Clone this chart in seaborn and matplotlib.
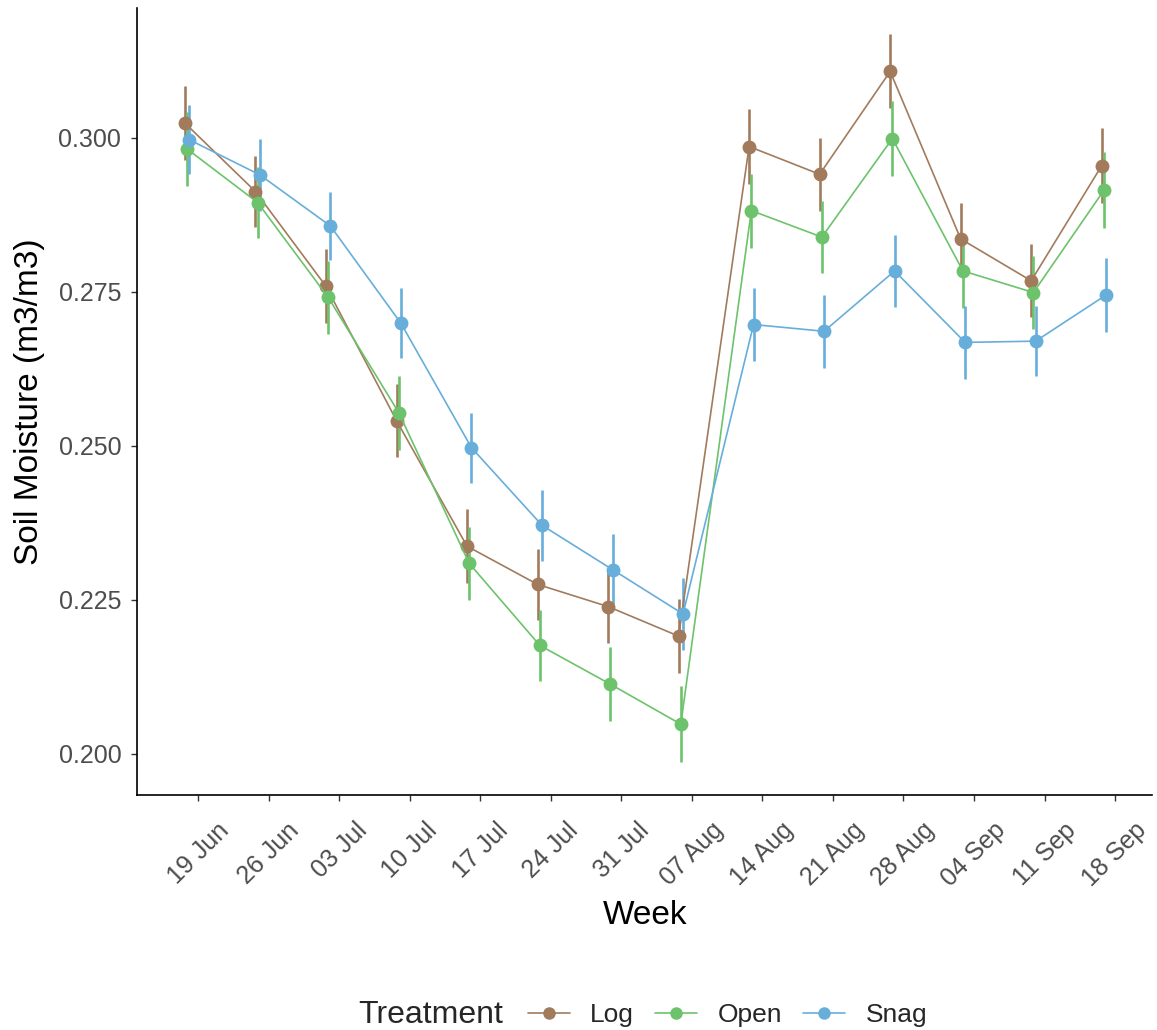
import matplotlib
matplotlib.use("Agg")
import matplotlib.pyplot as plt
import matplotlib.dates as mdates
from matplotlib.lines import Line2D
import seaborn as sns
import pandas as pd
import numpy as np

# ---- data ----
weeks = ["2019-06-18", "2019-06-25", "2019-07-02", "2019-07-09", "2019-07-16",
         "2019-07-23", "2019-07-30", "2019-08-06", "2019-08-13", "2019-08-20",
         "2019-08-27", "2019-09-03", "2019-09-10", "2019-09-17"]
tick_dates = ["2019-06-19", "2019-06-26", "2019-07-03", "2019-07-10", "2019-07-17",
              "2019-07-24", "2019-07-31", "2019-08-07", "2019-08-14", "2019-08-21",
              "2019-08-28", "2019-09-04", "2019-09-11", "2019-09-18"]
treatments = ["Log", "Open", "Snag"]
log_mean = [0.3024, 0.2913, 0.2759, 0.2541, 0.2337, 0.2275, 0.2239, 0.2191,
            0.2986, 0.2941, 0.3108, 0.2836, 0.2768, 0.2955]
open_mean = [0.2982, 0.2895, 0.2741, 0.2554, 0.2309, 0.2176, 0.2113, 0.2048,
             0.2882, 0.2839, 0.2999, 0.2784, 0.2749, 0.2915]
snag_mean = [0.2997, 0.2940, 0.2857, 0.2699, 0.2497, 0.2371, 0.2299, 0.2227,
             0.2697, 0.2686, 0.2784, 0.2668, 0.2670, 0.2745]
log_se = [0.0060, 0.0058, 0.0060, 0.0059, 0.0060, 0.0058, 0.0059, 0.0060,
          0.0061, 0.0059, 0.0060, 0.0058, 0.0059, 0.0061]
open_se = [0.0060, 0.0057, 0.0059, 0.0060, 0.0060, 0.0058, 0.0060, 0.0062,
           0.0060, 0.0059, 0.0061, 0.0060, 0.0060, 0.0062]
snag_se = [0.0056, 0.0059, 0.0056, 0.0057, 0.0057, 0.0058, 0.0058, 0.0058,
           0.0060, 0.0059, 0.0058, 0.0059, 0.0057, 0.0060]

colors = {"Log": "#A27B5C", "Open": "#6CC36C", "Snag": "#67AEDB"}
dodge_days = {"Log": -0.32, "Open": -0.10, "Snag": 0.12}

means = {"Log": log_mean, "Open": open_mean, "Snag": snag_mean}
ses = {"Log": log_se, "Open": open_se, "Snag": snag_se}

rows = []
for t in treatments:
    for d, m, s in zip(weeks, means[t], ses[t]):
        rows.append({"Week": pd.Timestamp(d) + pd.Timedelta(days=dodge_days[t]),
                     "Moisture": m, "se": s, "Treatment": t})
df = pd.DataFrame(rows)

# ---- style ----
sns.set_style("ticks")
plt.rcParams["font.family"] = ["Liberation Sans", "DejaVu Sans"]

W, H = 1157, 1030
fig = plt.figure(figsize=(W / 100, H / 100), dpi=100)
L, R, T, B = 137.3, 1152, 8, 795
ax = fig.add_axes([L / W, 1 - B / H, (R - L) / W, (B - T) / H])

# error bars first (under points)
for t in treatments:
    sub = df[df["Treatment"] == t]
    ax.errorbar(sub["Week"], sub["Moisture"], yerr=sub["se"], fmt="none",
                ecolor=colors[t], elinewidth=1.9, capsize=0, zorder=2)

sns.lineplot(data=df, x="Week", y="Moisture", hue="Treatment",
             hue_order=treatments, palette=colors, marker="o", markersize=10,
             markeredgewidth=0, linewidth=1.2, legend=False, ax=ax, zorder=3,
             sort=True, estimator=None)

# axes
x0 = pd.Timestamp(tick_dates[0]) - pd.Timedelta(days=6.05)
x1 = pd.Timestamp(tick_dates[-1]) + pd.Timedelta(days=3.67)
ax.set_xlim(x0, x1)
ax.set_ylim(0.1933, 0.3211)
ax.set_xticks([pd.Timestamp(d) for d in tick_dates])
ax.xaxis.set_major_formatter(mdates.DateFormatter("%d %b"))
ax.set_yticks([0.200, 0.225, 0.250, 0.275, 0.300])
ax.set_yticklabels(["0.200", "0.225", "0.250", "0.275", "0.300"])

for s in ["top", "right"]:
    ax.spines[s].set_visible(False)
for s in ["left", "bottom"]:
    ax.spines[s].set_color("black")
    ax.spines[s].set_linewidth(1.2)

ax.tick_params(axis="both", colors="#333333", length=4.5, width=1.0,
               labelsize=18, labelcolor="#4D4D4D")
ax.tick_params(axis="x", pad=12)
ax.tick_params(axis="y", pad=7)
for lab in ax.get_xticklabels():
    lab.set_rotation(45)
    lab.set_ha("center")
    lab.set_va("top")

ax.set_xlabel("Week", fontsize=24, color="black")
ax.xaxis.set_label_coords(0.5, -(916 - B) / (B - T))
ax.xaxis.label.set_va("center")
ax.set_ylabel("Soil Moisture (m3/m3)", fontsize=24, color="black")
ax.yaxis.set_label_coords(-(L - 30) / (R - L), 0.5)
ax.yaxis.label.set_va("center")

# legend along the bottom
leg_y = 1 - 1015 / H
fig.text(358 / W, leg_y, "Treatment", fontsize=23, va="center", ha="left")
handles = [Line2D([0], [0], color=colors[t], marker="o", markersize=9,
                  markeredgewidth=0, linewidth=1.2) for t in treatments]
fig.legend(handles, treatments, loc="center left",
           bbox_to_anchor=(528 / W, leg_y), ncol=3, frameon=False,
           fontsize=19, handlelength=1.6, handletextpad=0.76,
           columnspacing=0.8, borderpad=0, borderaxespad=0)

fig.savefig("out.png", dpi=100)
